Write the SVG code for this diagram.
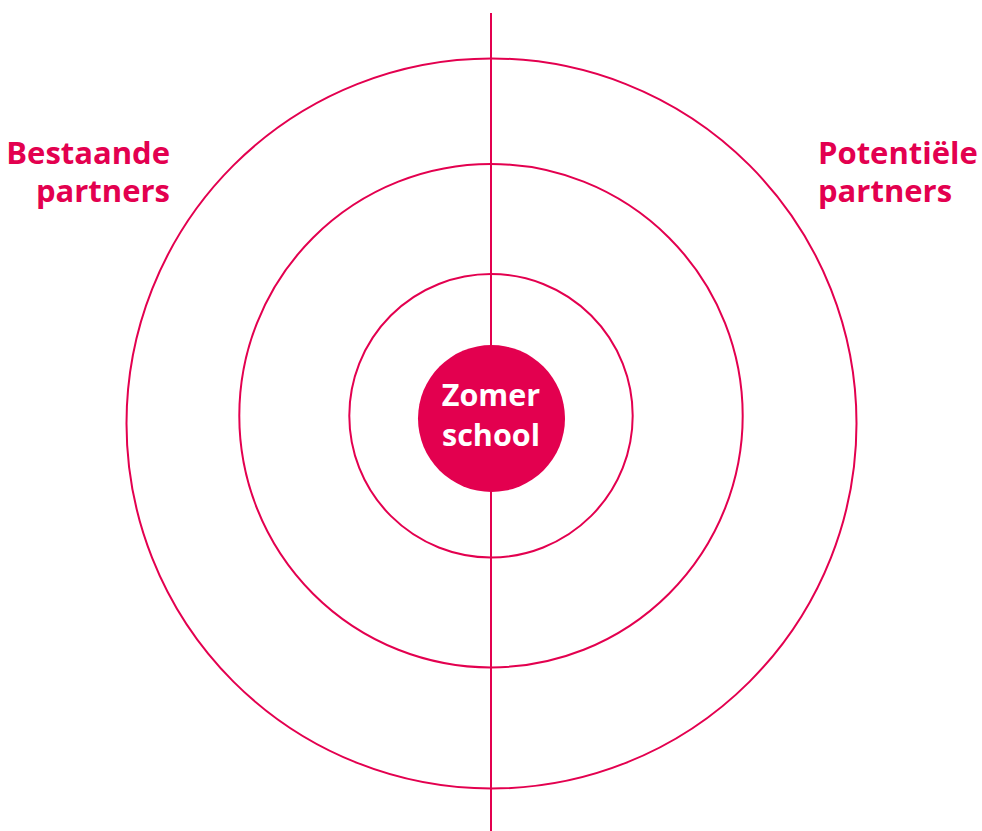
<svg xmlns="http://www.w3.org/2000/svg" width="982" height="831" viewBox="0 0 982 831">
<style>
.ring{fill:none;stroke:#E3004F;stroke-width:2}
.lbl{font-family:"Open Sans","Liberation Sans",sans-serif;font-weight:700;font-size:31px;fill:#E3004F}
.ctr{font-family:"Open Sans","Liberation Sans",sans-serif;font-weight:700;font-size:30.5px;fill:#fff}
</style>
<rect width="982" height="831" fill="#fff"/>
<g id="connectors">
<line x1="491" y1="13" x2="491" y2="831" stroke="#E3004F" stroke-width="2"/>
</g>
<g id="ring-outer"><circle class="ring" cx="491.5" cy="423.5" r="365"/></g>
<g id="ring-middle"><circle class="ring" cx="491" cy="415.7" r="251.7"/></g>
<g id="ring-inner"><circle class="ring" cx="491" cy="415.7" r="141.7"/></g>
<g id="center">
<circle cx="491.5" cy="418.5" r="73.5" fill="#E3004F"/>
<text class="ctr" x="491" y="406" text-anchor="middle">Zomer</text>
<text class="ctr" x="491" y="446" text-anchor="middle">school</text>
</g>
<g id="label-left">
<text class="lbl" x="170" y="164" text-anchor="end">Bestaande</text>
<text class="lbl" x="170" y="202" text-anchor="end">partners</text>
</g>
<g id="label-right">
<text class="lbl" x="818" y="164">Potentiële</text>
<text class="lbl" x="818" y="202">partners</text>
</g>
</svg>
